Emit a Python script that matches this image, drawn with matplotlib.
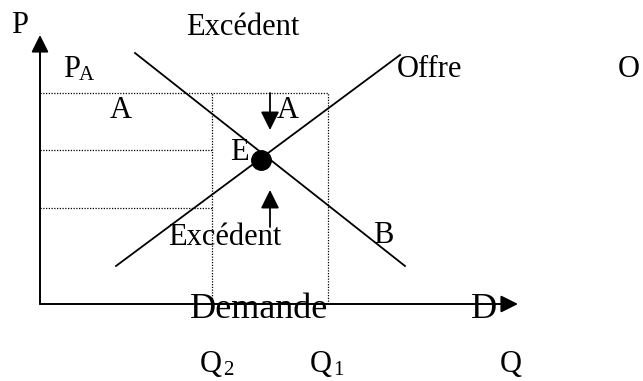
import matplotlib

matplotlib.use("Agg")
import matplotlib.pyplot as plt

# Data (schematic units, origin at the axes corner)
demand_q = [95, 365]
demand_p = [251, 38]
supply_q = [76, 360]
supply_p = [38, 249]
eq_q, eq_p = 221, 144

# price levels (P_A, equilibrium, low price) and quantities Q2, Q1
price_levels = [211, 154, 96]
q2, q1 = 172, 288

# axis lengths
q_axis_end = 478
p_axis_end = 269

# surplus arrows: (x, start, end)
arrow_down = (230, 211, 174)
arrow_up = (230, 77, 114)

plt.rcParams["font.family"] = ["Liberation Serif", "DejaVu Serif"]

fig = plt.figure(figsize=(6.43, 3.81), dpi=100)
ax = fig.add_axes([0, 0, 1, 1])
ax.set_xlim(-40, 603)
ax.set_ylim(-77, 304)
ax.axis("off")

# axes with arrowheads
axis_arrow = dict(arrowstyle="-|>", lw=1.4, color="black", mutation_scale=26, shrinkA=0, shrinkB=0)
ax.annotate("", xy=(0, p_axis_end), xytext=(0, 0), arrowprops=axis_arrow)
ax.annotate("", xy=(q_axis_end, 0), xytext=(0, 0), arrowprops=axis_arrow)

# dotted guide lines
dot = dict(color="black", lw=0.9, linestyle=(0, (1, 1.2)))
ax.plot([0, q1], [price_levels[0], price_levels[0]], **dot)
ax.plot([0, q2], [price_levels[1], price_levels[1]], **dot)
ax.plot([0, q2], [price_levels[2], price_levels[2]], **dot)
ax.plot([q2, q2], [0, price_levels[0]], **dot)
ax.plot([q1, q1], [0, price_levels[0]], **dot)

# demand and supply
ax.plot(demand_q, demand_p, color="black", lw=1.3)
ax.plot(supply_q, supply_p, color="black", lw=1.3)
ax.plot([eq_q], [eq_p], "o", color="black", markersize=14)

# surplus arrows
small_arrow = dict(arrowstyle="-|>", lw=1.3, color="black", mutation_scale=28, shrinkA=0, shrinkB=0)
ax.annotate("", xy=(arrow_down[0], arrow_down[2]), xytext=(arrow_down[0], arrow_down[1]), arrowprops=small_arrow)
ax.annotate("", xy=(arrow_up[0], arrow_up[2]), xytext=(arrow_up[0], arrow_up[1]), arrowprops=small_arrow)

fs = 22
big = 26
sub = 15
ax.text(-20, 271, "P", fontsize=fs, ha="center", va="baseline")
ax.text(203, 269, "Excédent", fontsize=fs, ha="center", va="baseline")
ax.text(23, 227, "P", fontsize=fs, ha="left", va="baseline")
ax.text(39, 224, "A", fontsize=sub, ha="left", va="baseline")
ax.text(81, 186, "A", fontsize=fs, ha="center", va="baseline")
ax.text(248, 186, "A", fontsize=fs, ha="center", va="baseline")
ax.text(199, 144, "E", fontsize=fs, ha="center", va="baseline")
ax.text(357, 227, "Offre", fontsize=fs, ha="left", va="baseline")
ax.text(578, 227, "O", fontsize=fs, ha="left", va="baseline")
ax.text(185, 59, "Excédent", fontsize=fs, ha="center", va="baseline")
ax.text(343, 61, "B", fontsize=fs, ha="center", va="baseline")
ax.text(219, -14, "Demande", fontsize=big, ha="center", va="baseline")
ax.text(444, -14, "D", fontsize=big, ha="center", va="baseline")
ax.text(160, -68, "Q", fontsize=fs, ha="left", va="baseline")
ax.text(183, -71, "2", fontsize=sub, ha="left", va="baseline")
ax.text(270, -68, "Q", fontsize=fs, ha="left", va="baseline")
ax.text(293, -71, "1", fontsize=sub, ha="left", va="baseline")
ax.text(471, -68, "Q", fontsize=fs, ha="center", va="baseline")

fig.savefig("out.png", dpi=100)
